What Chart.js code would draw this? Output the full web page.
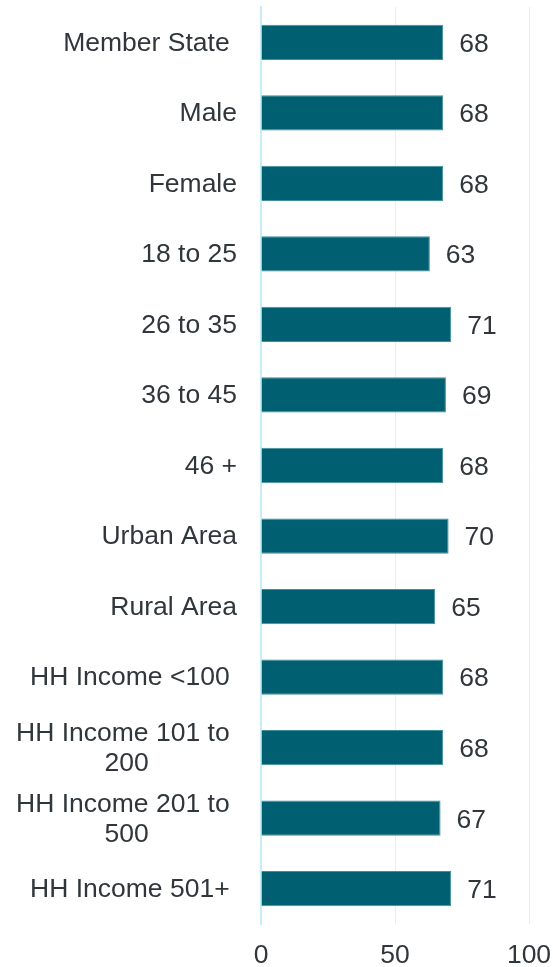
<!DOCTYPE html>
<html>
<head>
<meta charset="utf-8">
<script src="https://cdn.jsdelivr.net/npm/chart.js@4/dist/chart.umd.min.js"></script>
<style>
  html, body { margin: 0; padding: 0; background: #fff; }
  #wrap { width: 553px; height: 967px; }
</style>
</head>
<body>
<div id="wrap"><canvas id="barChart" width="553" height="967"></canvas></div>
<script>
// Data
var categories = [
    'Member State ', 'Male', 'Female', '18 to 25', '26 to 35', '36 to 45', '46 +',
    'Urban Area', 'Rural Area', 'HH Income <100 ',
    ['HH Income 101 to ', '200'], ['HH Income 201 to ', '500'], 'HH Income 501+ '
];
var scores = [68, 68, 68, 63, 71, 69, 68, 70, 65, 68, 68, 67, 71];
var xTicks = [0, 50, 100];

var textColor = '#30363b';
var fontFamily = '"Liberation Sans", Arial, sans-serif';

// category labels: block right-aligned to the axis, lines centered inside it
var categoryLabels = {
    id: 'categoryLabels',
    afterDraw: function (chart) {
        var ctx = chart.ctx;
        var yScale = chart.scales.y;
        ctx.save();
        ctx.font = '26.5px ' + fontFamily;
        ctx.fillStyle = textColor;
        ctx.textBaseline = 'middle';
        ctx.textAlign = 'center';
        var right = chart.chartArea.left - 24;
        var lineHeight = 30;
        for (var i = 0; i < categories.length; i++) {
            var lines = [].concat(categories[i]);
            var widest = 0;
            lines.forEach(function (l) { widest = Math.max(widest, ctx.measureText(l).width); });
            var cx = right - widest / 2;
            var y0 = yScale.getPixelForValue(i) - (lines.length - 1) * lineHeight / 2 + 1;
            lines.forEach(function (l, k) {
                ctx.fillText(l, cx, y0 + k * lineHeight);
            });
        }
        ctx.restore();
    }
};

// value labels to the right of each bar
var valueLabels = {
    id: 'valueLabels',
    afterDatasetsDraw: function (chart) {
        var ctx = chart.ctx;
        var meta = chart.getDatasetMeta(0);
        ctx.save();
        ctx.font = '26.5px ' + fontFamily;
        ctx.fillStyle = textColor;
        ctx.textBaseline = 'middle';
        ctx.textAlign = 'left';
        meta.data.forEach(function (bar, i) {
            ctx.fillText(String(scores[i]), bar.x + 16, bar.y + 2);
        });
        ctx.restore();
    }
};

var ctx = document.getElementById('barChart').getContext('2d');
var chart = new Chart(ctx, {
    type: 'bar',
    data: {
        labels: categories,
        datasets: [{
            data: scores,
            backgroundColor: '#005f70',
            borderColor: '#3f8f9b',
            borderWidth: 1,
            barPercentage: 0.5,
            categoryPercentage: 1.0
        }]
    },
    options: {
        indexAxis: 'y',
        responsive: false,
        animation: false,
        layout: { padding: { left: 0, right: 24, top: 7, bottom: 0 } },
        plugins: {
            legend: { display: false },
            tooltip: { enabled: false }
        },
        scales: {
            x: {
                min: 0,
                max: 100,
                afterBuildTicks: function (scale) {
                    scale.ticks = xTicks.map(function (v) { return { value: v }; });
                },
                afterFit: function (scale) {
                    scale.height = 43;
                    scale.paddingLeft = 0;
                    scale.paddingRight = 0;
                },
                grid: { color: '#dcf3f8', lineWidth: 1, drawTicks: false },
                border: { display: false },
                ticks: {
                    padding: 16,
                    color: textColor,
                    font: { family: fontFamily, size: 26.5 }
                }
            },
            y: {
                grid: { display: false, drawTicks: false },
                border: { display: true, color: '#c6eef6', width: 2 },
                ticks: { display: false },
                afterFit: function (scale) { scale.width = 261; }
            }
        }
    },
    plugins: [categoryLabels, valueLabels]
});
</script>
</body>
</html>
